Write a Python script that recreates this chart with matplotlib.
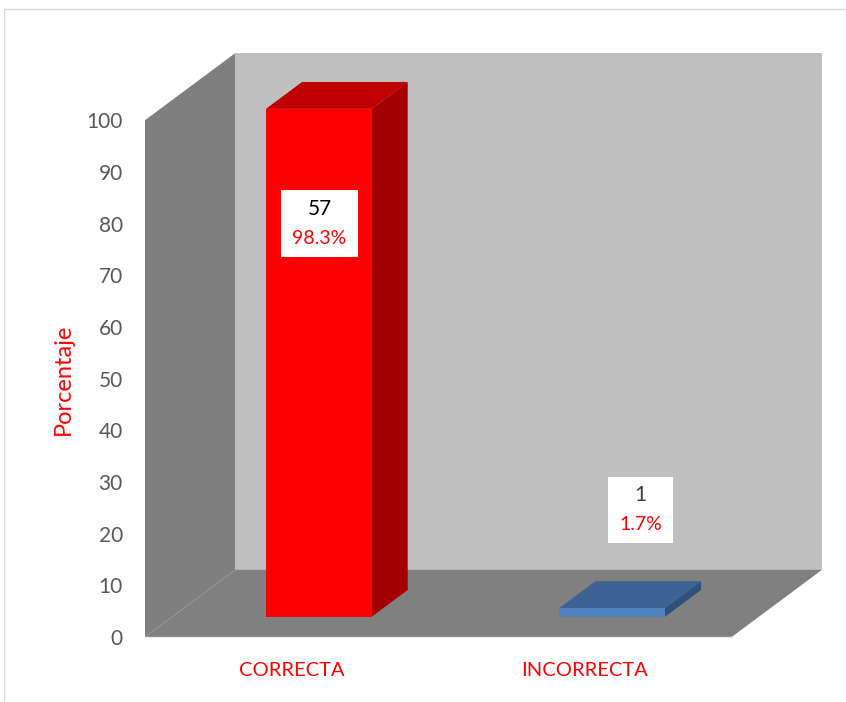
import matplotlib.pyplot as plt
from matplotlib.patches import Polygon, Rectangle

plt.rcParams['font.family'] = ['Lato', 'DejaVu Sans']

categories = ['CORRECTA', 'INCORRECTA']
counts = [57, 1]
percents = [98.3, 1.7]

# fake 3D: depth offsets in data units (x in category units, y in %)
DX, DY = 0.308, 13.0
Z0, Z1 = 0.3, 0.7          # bar front/back depth fractions
BAR_W = 0.36
face_cols = [('#ff0000', '#c00000', '#a50000'),
             ('#4f81bd', '#3d6394', '#30507c')]
label_pos = [(0.595, 80.0), (1.689, 24.6)]
box_size = [(0.26, 13.0), (0.22, 12.8)]


def proj(x, y, z):
    return (x + z * DX, y + z * DY)


fig = plt.figure(figsize=(8.46, 7.02), dpi=100)
ax = fig.add_axes([145 / 846, 65 / 702, 677 / 846, 585 / 702])
ax.set_xlim(0, 2 + DX)
ax.set_ylim(0, 113.2)

# walls and floor
ax.add_patch(Polygon([proj(0, 0, 0), proj(0, 0, 1), proj(0, 100, 1), proj(0, 100, 0)],
                     closed=True, fc='#7f7f7f', ec='none', zorder=1))
ax.add_patch(Polygon([proj(0, 0, 1), proj(2, 0, 1), proj(2, 100, 1), proj(0, 100, 1)],
                     closed=True, fc='#bfbfbf', ec='none', zorder=1))
ax.add_patch(Polygon([proj(0, 0, 0), proj(2, 0, 0), proj(2, 0, 1), proj(0, 0, 1)],
                     closed=True, fc='#808080', ec='none', zorder=2))
ax.plot([0, 2], [0, 0], color='#e8e8e8', lw=1, zorder=2, clip_on=False)

# bars
for i, (val, cols) in enumerate(zip(percents, face_cols)):
    c = i + 0.5
    x0, x1 = c - BAR_W / 2, c + BAR_W / 2
    front = [proj(x0, 0, Z0), proj(x1, 0, Z0), proj(x1, val, Z0), proj(x0, val, Z0)]
    top = [proj(x0, val, Z0), proj(x1, val, Z0), proj(x1, val, Z1), proj(x0, val, Z1)]
    side = [proj(x1, 0, Z0), proj(x1, 0, Z1), proj(x1, val, Z1), proj(x1, val, Z0)]
    ax.add_patch(Polygon(side, closed=True, fc=cols[2], ec='none', zorder=3))
    ax.add_patch(Polygon(top, closed=True, fc=cols[1], ec='none', zorder=3))
    ax.add_patch(Polygon(front, closed=True, fc=cols[0], ec='none', zorder=4))

# data labels
for i, (n, p) in enumerate(zip(counts, percents)):
    lx, ly = label_pos[i]
    bw, bh = box_size[i]
    ax.add_patch(Rectangle((lx - bw / 2, ly - bh / 2), bw, bh, fc='white', ec='none', zorder=5))
    ax.text(lx, ly + 2.9, str(n), ha='center', va='center', fontsize=15,
            color='black' if i == 0 else '#404040', zorder=6)
    ax.text(lx, ly - 2.9, f'{p}%', ha='center', va='center', fontsize=14,
            color='red', zorder=6)

ax.set_yticks(range(0, 101, 10))
ax.set_xticks([0.5, 1.5])
ax.set_xticklabels(categories, color='red', fontsize=14.5)
ax.tick_params(axis='y', length=0, pad=16, labelsize=15, labelcolor='#595959')
ax.tick_params(axis='x', length=0, pad=18)
for s in ax.spines.values():
    s.set_visible(False)
ax.set_ylabel('Porcentaje', color='red', fontsize=17)
ax.yaxis.set_label_coords(-0.105, 0.44)

# chart frame
fig.add_artist(Rectangle((4 / 846, -0.02), 1.0, (702 - 9) / 702 + 0.02,
                         transform=fig.transFigure, fill=False, ec='#d9d9d9', lw=1))

fig.savefig('out.png', dpi=100)
